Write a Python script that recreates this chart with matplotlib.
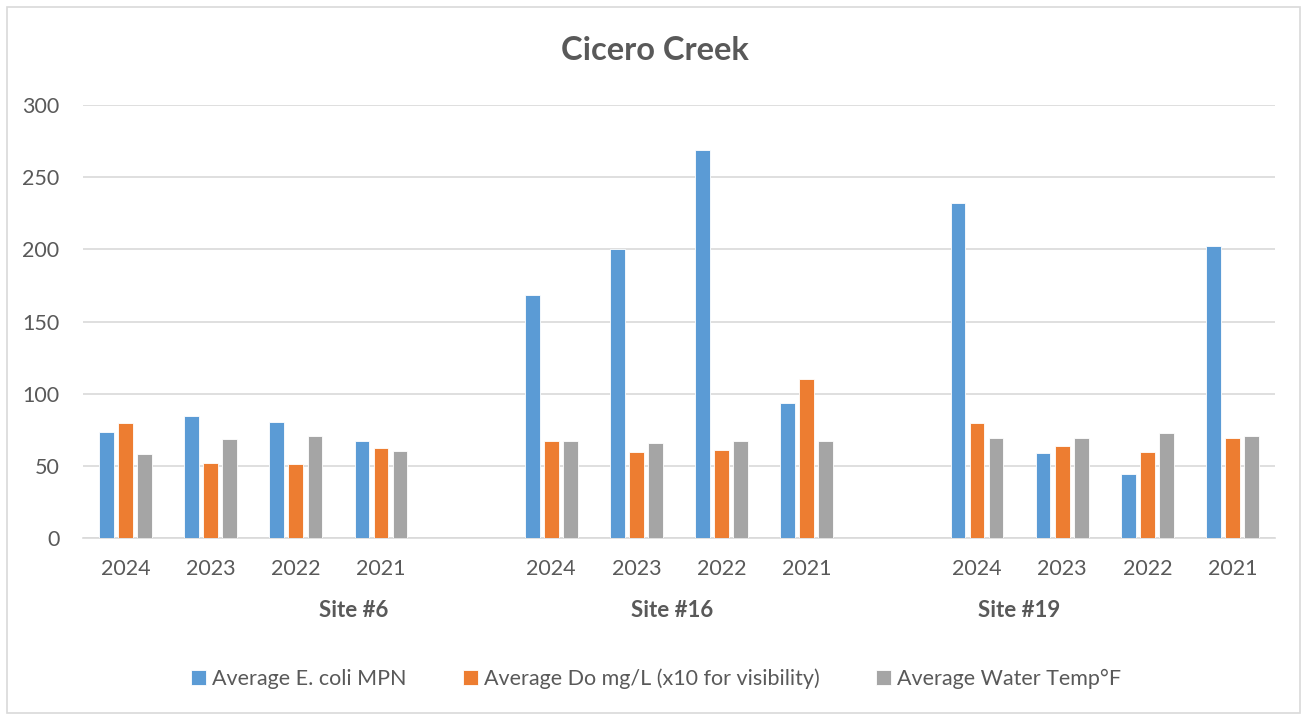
import numpy as np
import matplotlib
matplotlib.use("Agg")
import matplotlib.pyplot as plt
from matplotlib.patches import Rectangle

plt.rcParams['font.family'] = ['Lato', 'DejaVu Sans']

# data
sites = ["Site #6", "Site #16", "Site #19"]
years = ["2024", "2023", "2022", "2021"]
ecoli = [73.5, 84.5, 80.5, 67, 168.5, 200, 269, 93.5, 232, 59, 44.5, 202]
do_x10 = [80, 52, 51.5, 62.5, 67.5, 59.5, 61, 110, 79.5, 63.5, 59.5, 69]
water_temp = [58.5, 68.5, 70.5, 60, 67, 66, 67, 67, 69.5, 69, 72.5, 71]
series_names = ["Average E. coli MPN", "Average Do mg/L (x10 for visibility)", "Average Water Temp°F"]
colors = ["#5b9bd5", "#ed7d31", "#a5a5a5"]

TEXT = "#595959"
GRID = "#d9d9d9"

# 4 years per site with one empty slot between sites
x = np.array([s * (len(years) + 1) + j for s in range(len(sites)) for j in range(len(years))])

fig = plt.figure(figsize=(13.04, 7.15), dpi=100)
ax = fig.add_axes([83 / 1304, 1 - 538 / 715, (1275 - 83) / 1304, (538 - 105) / 715])

width = 0.173
step = 0.2235
for k, (vals, name, c) in enumerate(zip([ecoli, do_x10, water_temp], series_names, colors)):
    ax.bar(x + (k - 1) * step, vals, width=width, color=c, edgecolor="white",
           linewidth=0.6, label=name, zorder=3)

ax.set_xlim(-0.5, 13.5)
ax.set_ylim(0, 300)
ax.set_yticks(np.arange(0, 301, 50))
ax.grid(axis="y", color=GRID, linewidth=1.2, zorder=0)
for sp in ["top", "right", "left"]:
    ax.spines[sp].set_visible(False)
ax.spines["bottom"].set_color(GRID)
ax.spines["bottom"].set_linewidth(1.2)

ax.set_xticks(x)
ax.set_xticklabels(years * len(sites))
ax.tick_params(axis="x", length=0, pad=15, labelsize=15.5, labelcolor=TEXT)
ax.tick_params(axis="y", length=0, pad=17, labelsize=15.5, labelcolor=TEXT)

# site labels under the years
site_pos = [2.68, 6.42, 10.49]
for name, px in zip(sites, site_pos):
    ax.text(px, -0.167, name, transform=ax.get_xaxis_transform(), ha="center", va="center",
            fontsize=16, fontweight="bold", color=TEXT)

fig.text(655 / 1304, 1 - 50 / 715, "Cicero Creek", ha="center", va="center",
         fontsize=23.5, fontweight="bold", color=TEXT)

fig.legend(loc="center", bbox_to_anchor=(656 / 1304, 1 - 679 / 715), ncol=3, frameon=False,
           fontsize=15.5, labelcolor=TEXT, handlelength=0.7, handleheight=0.7,
           handletextpad=0.3, columnspacing=2.6)

# chart area border
fig.patches.append(Rectangle((7 / 1304, 2 / 715), 1293 / 1304, 706 / 715, transform=fig.transFigure,
                             fill=False, edgecolor=GRID, linewidth=1.2))

fig.savefig("out.png", dpi=100)
